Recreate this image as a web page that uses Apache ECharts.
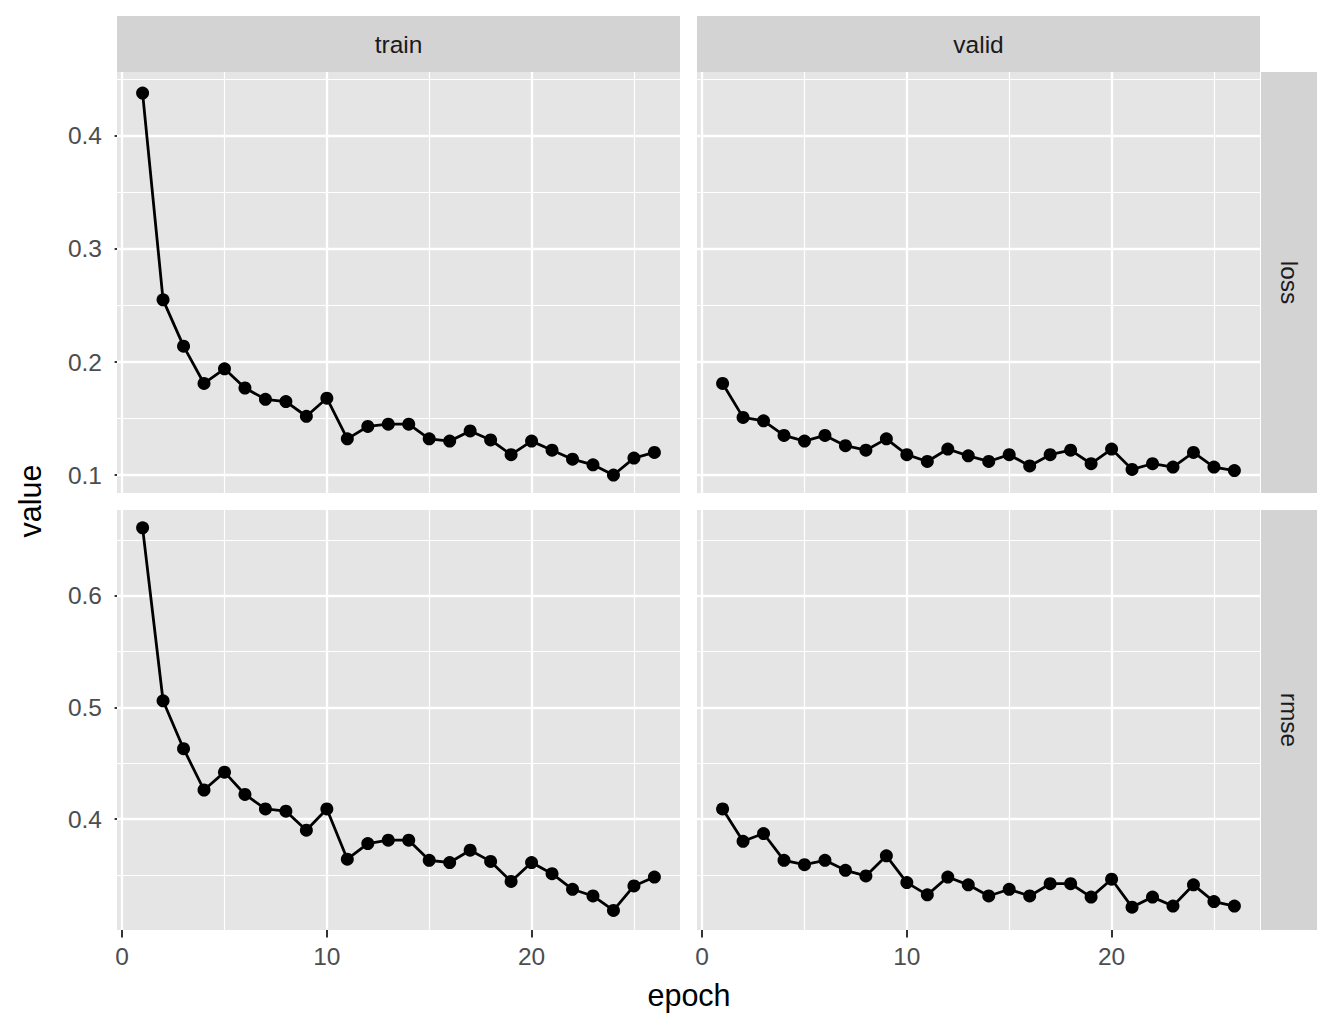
<!DOCTYPE html>
<html><head><meta charset="utf-8">
<script src="https://cdn.jsdelivr.net/npm/echarts@6/dist/echarts.min.js"></script>
<style>html,body{margin:0;padding:0;background:#fff}#c{width:1333px;height:1031px}</style>
</head><body><div id="c"></div>
<script>
// ---- data ----
const epochs = [1,2,3,4,5,6,7,8,9,10,11,12,13,14,15,16,17,18,19,20,21,22,23,24,25,26];
const colFacets = ['train', 'valid'];
const rowFacets = ['loss', 'rmse'];
const trainLoss = [0.438,0.255,0.214,0.181,0.194,0.177,0.167,0.165,0.152,0.168,0.132,0.143,0.145,0.145,0.132,0.130,0.139,0.131,0.118,0.130,0.122,0.114,0.109,0.100,0.115,0.120];
const validLoss = [0.181,0.151,0.148,0.135,0.130,0.135,0.126,0.122,0.132,0.118,0.112,0.123,0.117,0.112,0.118,0.108,0.118,0.122,0.110,0.123,0.105,0.110,0.107,0.120,0.107,0.104];
const trainRmse = [0.661,0.506,0.463,0.426,0.442,0.422,0.409,0.407,0.390,0.409,0.364,0.378,0.381,0.381,0.363,0.361,0.372,0.362,0.344,0.361,0.351,0.337,0.331,0.318,0.340,0.348];
const validRmse = [0.409,0.380,0.387,0.363,0.359,0.363,0.354,0.349,0.367,0.343,0.332,0.348,0.341,0.331,0.337,0.331,0.342,0.342,0.330,0.346,0.321,0.330,0.322,0.341,0.326,0.322];
const xTicks = [0, 10, 20];
const xMinor = [5, 15, 25];
const lossTicks = [0.1, 0.2, 0.3, 0.4];
const lossMinor = [0.15, 0.25, 0.35, 0.45];
const rmseTicks = [0.4, 0.5, 0.6];
const rmseMinor = [0.35, 0.45, 0.55, 0.65];

// ---- layout ----
const FONT = '"Liberation Sans", Arial, sans-serif';
const PANEL_BG = '#E5E5E5';
const STRIP_BG = '#D3D3D3';
const cols = [{left: 117, width: 563}, {left: 697, width: 563}];
const rows = [{top: 72, height: 421}, {top: 510, height: 420}];
const xRange = [-0.25, 27.25];
const yRanges = [[0.0841, 0.4566], [0.3005, 0.677]];
const yTickSets = [lossTicks, rmseTicks];
const yMinorSets = [lossMinor, rmseMinor];
const panelData = [[trainLoss, validLoss], [trainRmse, validRmse]];

const grids = [], xAxes = [], yAxes = [], series = [], graphics = [];
let idx = 0;
for (let r = 0; r < 2; r++) {
  for (let c = 0; c < 2; c++) {
    grids.push({left: cols[c].left, top: rows[r].top, width: cols[c].width, height: rows[r].height,
      show: true, backgroundColor: PANEL_BG, borderWidth: 0, containLabel: false});
    const showX = r === 1, showY = c === 0;
    xAxes.push({type: 'value', gridIndex: idx, min: xRange[0], max: xRange[1],
      axisLine: {show: false}, splitLine: {show: false},
      axisTick: {show: showX, length: 7.5, lineStyle: {color: '#333333', width: 2}, customValues: xTicks},
      axisLabel: {show: showX, customValues: xTicks, margin: 14, color: '#4D4D4D', fontSize: 24.5, fontFamily: FONT}
    });
    yAxes.push({type: 'value', gridIndex: idx, min: yRanges[r][0], max: yRanges[r][1],
      axisLine: {show: false}, splitLine: {show: false},
      axisTick: {show: showY, length: 7.5, lineStyle: {color: '#333333', width: 2}, customValues: yTickSets[r]},
      axisLabel: {show: showY, customValues: yTickSets[r], margin: 15, color: '#4D4D4D', fontSize: 24.5, fontFamily: FONT}
    });
    const gl = [];
    xMinor.forEach(v => gl.push({xAxis: v, lineStyle: {color: '#FFFFFF', width: 1.2, type: 'solid'}}));
    yMinorSets[r].forEach(v => gl.push({yAxis: v, lineStyle: {color: '#FFFFFF', width: 1.2, type: 'solid'}}));
    xTicks.forEach(v => gl.push({xAxis: v, lineStyle: {color: '#FFFFFF', width: 2.3, type: 'solid'}}));
    yTickSets[r].forEach(v => gl.push({yAxis: v, lineStyle: {color: '#FFFFFF', width: 2.3, type: 'solid'}}));
    const vals = panelData[r][c];
    series.push({
      type: 'line', xAxisIndex: idx, yAxisIndex: idx, z: 3,
      data: epochs.map((e, i) => [e, vals[i]]),
      symbol: 'circle', symbolSize: 13, showSymbol: true,
      itemStyle: {color: '#000000'}, lineStyle: {color: '#000000', width: 2.8},
      animation: false, silent: true,
      markLine: {z: 1, silent: true, animation: false, symbol: ['none', 'none'],
        label: {show: false}, emphasis: {disabled: true}, data: gl}
    });
    idx++;
  }
}

// strips
colFacets.forEach((name, c) => {
  graphics.push({type: 'rect', left: cols[c].left, top: 16, shape: {width: cols[c].width, height: 56},
    style: {fill: STRIP_BG}, silent: true});
  graphics.push({type: 'text', x: cols[c].left + cols[c].width / 2, y: 44,
    style: {text: name, fill: '#1A1A1A', font: '24.5px ' + FONT, textAlign: 'center', textVerticalAlign: 'middle'}, silent: true});
});
rowFacets.forEach((name, r) => {
  graphics.push({type: 'rect', left: 1261, top: rows[r].top, shape: {width: 56, height: rows[r].height},
    style: {fill: STRIP_BG}, silent: true});
  graphics.push({type: 'text', x: 1289, y: rows[r].top + rows[r].height / 2, rotation: -Math.PI / 2,
    style: {text: name, fill: '#1A1A1A', font: '24.5px ' + FONT, textAlign: 'center', textVerticalAlign: 'middle'}, silent: true});
});
// axis titles
graphics.push({type: 'text', x: 30, y: 501, rotation: Math.PI / 2,
  style: {text: 'value', fill: '#000000', font: '30.5px ' + FONT, textAlign: 'center', textVerticalAlign: 'middle'}, silent: true});
graphics.push({type: 'text', x: 689, y: 995,
  style: {text: 'epoch', fill: '#000000', font: '30.5px ' + FONT, textAlign: 'center', textVerticalAlign: 'middle'}, silent: true});

const chart = echarts.init(document.getElementById('c'), null, {renderer: 'svg', width: 1333, height: 1031});
chart.setOption({
  animation: false,
  backgroundColor: '#FFFFFF',
  grid: grids, xAxis: xAxes, yAxis: yAxes, series: series,
  graphic: {elements: graphics}
});
</script>
</body></html>
